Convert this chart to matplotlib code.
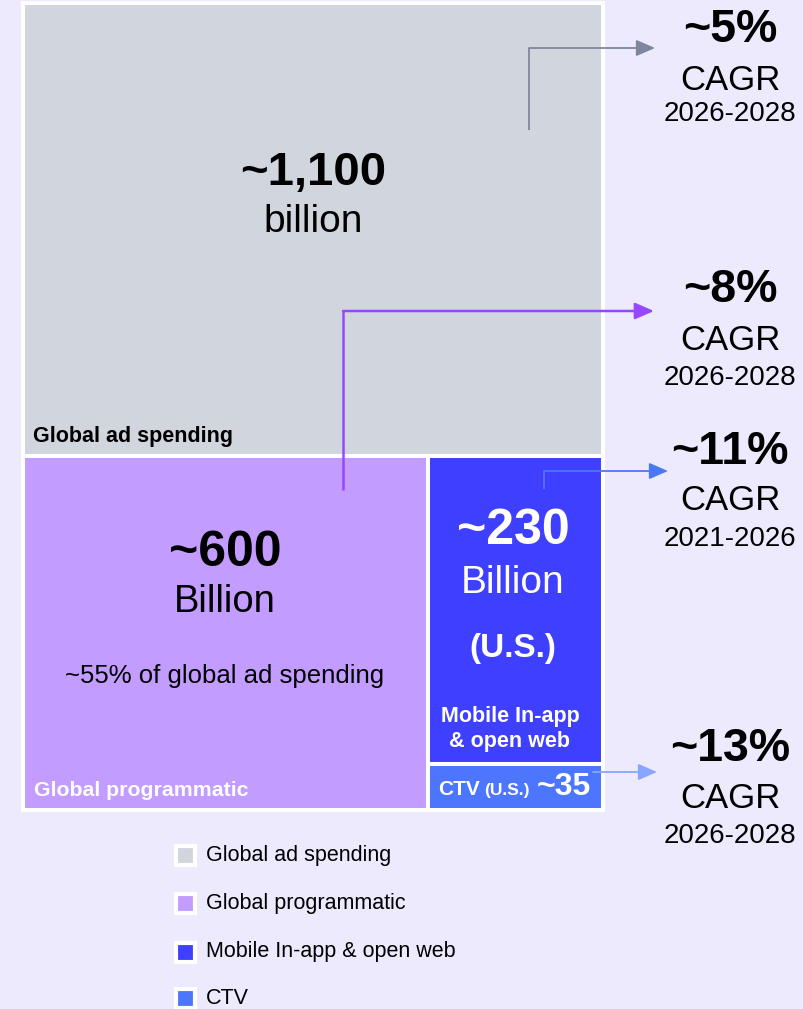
import matplotlib
matplotlib.use("Agg")
import matplotlib.pyplot as plt
from matplotlib.patches import Rectangle

plt.rcParams['font.family'] = ['Liberation Sans', 'DejaVu Sans']

# segments of the ad market
segments = ['Global ad spending', 'Global programmatic', 'Mobile In-app & open web', 'CTV']
values = ['~1,100', '~600', '~230', '~35']
units = ['billion', 'Billion', 'Billion', '']
cagr = ['~5%', '~8%', '~11%', '~13%']
periods = ['2026-2028', '2026-2028', '2021-2026', '2026-2028']

bg = '#ECEAFC'
fills = ['#D1D5DE', '#C29CFF', '#3F3FFF', '#4D76FF']
arrow_cols = ['#7E879C', '#9747FF', '#4A78F5', '#88A5FF']

fig = plt.figure(figsize=(8.04, 10.09), dpi=100)
fig.patch.set_facecolor(bg)
ax = fig.add_axes([0, 0, 1, 1])
ax.set_xlim(0, 804)
ax.set_ylim(1009, 0)
ax.axis('off')

# treemap boxes (x0, y0, x1, y1) in pixels
boxes = [(23, 3, 603.5, 809.5),
         (23, 455.5, 428, 809.5),
         (428, 455.5, 603.5, 763.5),
         (428, 763.5, 603.5, 809.5)]
for (x0, y0, x1, y1), c in zip(boxes, fills):
    ax.add_patch(Rectangle((x0, y0), x1 - x0, y1 - y0, facecolor=c,
                           edgecolor='white', linewidth=2.9))

# big numbers
ax.text(313, 173, values[0], ha='center', va='center', fontsize=34, fontweight='bold', color='black')
ax.text(313, 222, units[0], ha='center', va='center', fontsize=28, color='black')
ax.text(33, 442, segments[0], ha='left', va='baseline', fontsize=15.5, fontweight='bold', color='black')

ax.text(225, 553, values[1], ha='center', va='center', fontsize=36, fontweight='bold', color='black')
ax.text(225, 602, units[1], ha='center', va='center', fontsize=27.5, color='black')
ax.text(225, 676, '~55% of global ad spending', ha='center', va='center', fontsize=18.5, color='black')
ax.text(34, 796, segments[1], ha='left', va='baseline', fontsize=15.3, fontweight='bold', color='white')

ax.text(513, 531, values[2], ha='center', va='center', fontsize=36, fontweight='bold', color='white')
ax.text(513, 583, units[2], ha='center', va='center', fontsize=28, color='white')
ax.text(513, 648, '(U.S.)', ha='center', va='center', fontsize=24, fontweight='bold', color='white')
ax.text(510, 722, 'Mobile In-app', ha='center', va='baseline', fontsize=15.5, fontweight='bold', color='white')
ax.text(510, 747, '& open web', ha='center', va='baseline', fontsize=15.5, fontweight='bold', color='white')

ax.text(438, 795, 'CTV', ha='left', va='baseline', fontsize=15, fontweight='bold', color='white')
ax.text(484, 795, '(U.S.)', ha='left', va='baseline', fontsize=12.5, fontweight='bold', color='white')
ax.text(591, 795, values[3], ha='right', va='baseline', fontsize=23, fontweight='bold', color='white')

# growth labels on the right
label_y = [(30, 80, 114), (290, 341, 378), (452, 500, 539), (749, 798, 836)]
for (y1, y2, y3), g, p in zip(label_y, cagr, periods):
    ax.text(730, y1, g, ha='center', va='center', fontsize=33.5, fontweight='bold', color='black')
    ax.text(730, y2, 'CAGR', ha='center', va='center', fontsize=25, color='black')
    ax.text(730, y3, p, ha='center', va='center', fontsize=20, color='black')

# elbow arrows from boxes to growth labels
paths = [[(529, 130), (529, 48), (655, 48)],
         [(343, 490), (343, 311), (654, 311)],
         [(544, 489), (544, 471), (668, 471)],
         [(593, 772), (657, 772)]]
widths = [1.3, 1.8, 1.3, 1.3]
for pts, c, lw in zip(paths, arrow_cols, widths):
    xs = [p[0] for p in pts[:-1]]
    ys = [p[1] for p in pts[:-1]]
    if len(pts) > 2:
        ax.plot(xs, ys, color=c, lw=lw, solid_capstyle='butt')
    ax.annotate('', xy=pts[-1], xytext=pts[-2],
                arrowprops=dict(arrowstyle='-|>,head_length=1.15,head_width=0.5',
                                mutation_scale=10, color=c, lw=lw,
                                shrinkA=0, shrinkB=0))

# legend
leg_y = [855, 903, 952, 998]
for y, name, c in zip(leg_y, segments, fills):
    ax.add_patch(Rectangle((176, y - 9.5), 19, 19, facecolor=c,
                           edgecolor='white', linewidth=3))
    ax.text(206, y, name, ha='left', va='center', fontsize=15.5, color='black')

fig.savefig('out.png', dpi=100, facecolor=bg)
